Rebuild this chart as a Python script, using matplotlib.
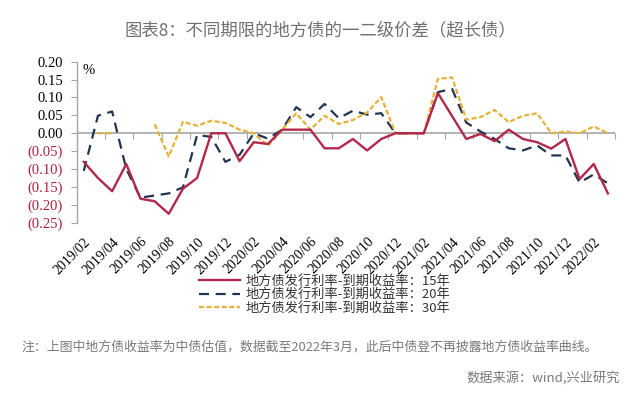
import numpy as np
import matplotlib
matplotlib.use("Agg")
import matplotlib.pyplot as plt

plt.rcParams['font.family'] = ['Noto Sans CJK SC', 'DejaVu Sans']

# 月份: 2019/02 ~ 2022/03
months = []
for yy in range(2019, 2023):
    for mm in range(1, 13):
        months.append("%d/%02d" % (yy, mm))
months = months[1:39]

nan = np.nan
y15 = [-0.08, -0.125, -0.162, -0.086, -0.183, -0.19, -0.225, -0.155, -0.125, 0.0,
       0.0, -0.078, -0.025, -0.03, 0.01, 0.01, 0.01, -0.042, -0.042, -0.016,
       -0.048, -0.016, 0.0, 0.0, 0.0, 0.112, 0.048, -0.016, -0.002, -0.022,
       0.01, -0.016, -0.025, -0.043, -0.016, -0.128, -0.086, -0.168]
y20 = [-0.105, 0.049, 0.061, -0.10, -0.18, -0.174, -0.168, -0.151, -0.005, -0.01,
       -0.08, -0.06, 0.0, -0.015, 0.01, 0.073, 0.045, 0.082, 0.042, 0.063,
       0.052, 0.056, 0.0, 0.0, 0.0, 0.115, 0.124, 0.03, 0.005, -0.016,
       -0.042, -0.048, -0.034, -0.062, -0.062, -0.138, -0.115, -0.14]
y30 = [nan, 0.0, 0.0, nan, nan, 0.025, -0.065, 0.032, 0.021, 0.035,
       0.029, 0.01, 0.0, -0.035, 0.01, 0.056, 0.01, 0.049, 0.026, 0.037,
       0.058, 0.101, 0.0, 0.0, 0.0, 0.152, 0.156, 0.038, 0.045, 0.065,
       0.031, 0.049, 0.056, 0.0, 0.005, 0.0, 0.019, 0.0]

names = ["地方债发行利率-到期收益率：15年",
         "地方债发行利率-到期收益率：20年",
         "地方债发行利率-到期收益率：30年"]
yticks = [-0.25, -0.20, -0.15, -0.10, -0.05, 0.0, 0.05, 0.10, 0.15, 0.20]

red = "#B2284A"
navy = "#22344F"
gold = "#E5B13A"
grey = "#A6A6A6"
neg_red = "#B0203A"

W, H = 640.0, 395.0
fig = plt.figure(figsize=(6.4, 3.95), dpi=100)
ax = fig.add_axes([76.7 / W, 1 - 222.7 / H, (615 - 76.7) / W, 161 / H])

x = np.arange(len(months))
ax.axhline(0, color=grey, lw=1.2, zorder=1)
l1, = ax.plot(x, y15, color=red, lw=1.7, zorder=3)
l2, = ax.plot(x, y20, color=navy, lw=1.6, dashes=(4.5, 3), zorder=2)
l3, = ax.plot(x, y30, color=gold, lw=1.6, dashes=(2.3, 1.1), zorder=2)

ax.set_xlim(-0.5, len(months) - 0.5)
ax.set_ylim(-0.25, 0.20)

for s in ["top", "right", "bottom"]:
    ax.spines[s].set_visible(False)
ax.spines["left"].set_color(grey)
ax.spines["left"].set_linewidth(1.0)

# y轴
ylabels = []
for v in yticks:
    if v < -1e-9:
        ylabels.append("(%.2f)" % abs(v))
    else:
        ylabels.append("%.2f" % v)
ax.set_yticks(yticks, ylabels)
ax.tick_params(axis="y", direction="out", length=4, color=grey, pad=6)
for t, v in zip(ax.get_yticklabels(), yticks):
    t.set_fontfamily("Liberation Serif")
    t.set_fontsize(10.5)
    t.set_color(neg_red if v < -1e-9 else "black")

# x轴标签
ax.set_xticks(x[::2], months[::2])
ax.tick_params(axis="x", length=0, pad=9)
for t in ax.get_xticklabels():
    t.set_fontfamily("Liberation Serif")
    t.set_fontsize(10)
    t.set_rotation(45)
    t.set_ha("right")
    t.set_va("top")
    t.set_rotation_mode("anchor")

# 零轴上的刻度
sec = ax.secondary_xaxis(0.25 / 0.45)
sec.set_xticks(np.arange(-0.5, len(months), 2))
sec.tick_params(axis="x", direction="out", length=4, color=grey,
                bottom=True, top=False, labelbottom=False, labeltop=False)
sec.spines["bottom"].set_visible(False)
sec.spines["top"].set_visible(False)

ax.text(0.023, 0.945, "%", transform=ax.transAxes, ha="center", va="center",
        fontsize=10.5, family="Liberation Serif")

fig.text(0.5, 1 - 30 / H, "图表8：不同期限的地方债的一二级价差（超长债）",
         ha="center", va="center", fontsize=12.5, color="#707070")

fig.legend([l1, l2, l3], names, loc="upper left",
           bbox_to_anchor=(199 / W, 1 - 275 / H), frameon=False,
           fontsize=9.5, handlelength=3.1, handletextpad=0.4,
           labelspacing=0.02, borderaxespad=0, borderpad=0,
           labelcolor="#333333")

fig.text(21 / W, 1 - 347 / H,
         "注：上图中地方债收益率为中债估值，数据截至2022年3月，此后中债登不再披露地方债收益率曲线。",
         ha="left", va="center", fontsize=9.3, color="#7A7A7A")
fig.text(620 / W, 1 - 378 / H, "数据来源：wind,兴业研究",
         ha="right", va="center", fontsize=9.5, color="#7A7A7A")

fig.savefig("out.png", dpi=100)
